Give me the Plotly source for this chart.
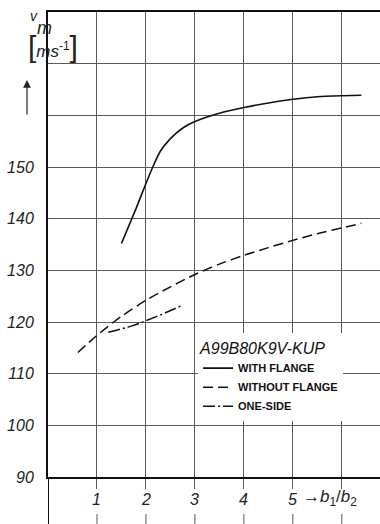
import plotly.graph_objects as go

# ---- data ----
x_with = [1.5, 1.8, 2.0, 2.14, 2.29, 2.49, 2.76, 3.0, 3.5, 4.0, 4.5, 5.0, 5.5, 6.0, 6.4]
v_with = [135.2, 142.0, 146.8, 150.0, 153.0, 155.4, 157.6, 158.8, 160.4, 161.5, 162.4, 163.1, 163.6, 163.8, 163.9]

x_without = [0.61, 1.0, 1.5, 2.0, 2.5, 3.0, 3.5, 4.0, 4.5, 5.0, 5.5, 6.0, 6.4]
v_without = [114.1, 117.4, 121.1, 124.2, 126.8, 129.2, 131.2, 132.9, 134.4, 135.8, 137.1, 138.2, 139.1]

x_one = [1.23, 1.7, 2.2, 2.71]
v_one = [118.0, 119.2, 121.0, 123.1]

x_ticks = [1, 2, 3, 4, 5, 6]
x_tick_labels = ["1", "2", "3", "4", "5"]
y_ticks = [90, 100, 110, 120, 130, 140, 150, 160, 170]
y_tick_labels = ["90", "100", "110", "120", "130", "140", "150", "", ""]

series_names = ["WITH FLANGE", "WITHOUT FLANGE", "ONE-SIDE"]
chart_label = "A99B80K9V-KUP"

GRID = "#5a5a5a"
INK = "#111111"
FONT = "Liberation Sans"

fig = go.Figure()
fig.add_trace(go.Scatter(x=x_with, y=v_with, mode="lines", name=series_names[0],
                         line=dict(color=INK, width=1.6, shape="spline", smoothing=0.5)))
fig.add_trace(go.Scatter(x=x_without, y=v_without, mode="lines", name=series_names[1],
                         line=dict(color=INK, width=1.5, dash="10px,5px", shape="spline", smoothing=0.8)))
fig.add_trace(go.Scatter(x=x_one, y=v_one, mode="lines", name=series_names[2],
                         line=dict(color=INK, width=1.5, dash="12px,3px,2px,3px", shape="spline", smoothing=0.8)))

fig.update_layout(
    width=380, height=524,
    margin=dict(l=48, r=0, t=12, b=47),
    paper_bgcolor="white", plot_bgcolor="white",
    showlegend=True,
    legend=dict(
        x=0.452, y=0.31, xanchor="left", yanchor="top",
        bgcolor="white", borderwidth=0,
        title=dict(text="<i>" + chart_label + "</i>",
                   font=dict(family=FONT, size=16, color=INK, weight="normal")),
        font=dict(family=FONT, size=11, color=INK, weight="bold"),
        itemwidth=30, tracegroupgap=0,
    ),
    xaxis=dict(
        range=[0, 6.78], tickvals=x_ticks, showticklabels=False,
        showgrid=True, gridcolor=GRID, gridwidth=1,
        ticks="outside", ticklen=10, tickcolor=GRID, tickwidth=1,
        showline=True, linecolor=INK, linewidth=2, mirror=True,
        zeroline=False, fixedrange=True,
    ),
    yaxis=dict(
        range=[90, 180], tickvals=y_ticks,
        ticktext=[("<i>" + t + "</i>") if t else "" for t in y_tick_labels],
        showgrid=True, gridcolor=GRID, gridwidth=1,
        ticks="", ticklabelstandoff=9,
        tickfont=dict(family=FONT, size=16, color="#222", style="italic"),
        showline=True, linecolor=INK, linewidth=2,
        zeroline=False, fixedrange=True,
    ),
)

def px_to_paper_x(px):
    return (px - 48) / 332

def px_to_paper_y(py):
    return (477 - py) / 465

annotations = []
for xv, lab in zip(x_ticks, x_tick_labels):
    annotations.append(dict(x=xv, y=0, xref="x", yref="paper", yshift=-33, text="<i>" + lab + "</i>",
                            showarrow=False, font=dict(family=FONT, size=16, color="#222")))
annotations.append(dict(x=5, y=0, xref="x", yref="paper", xshift=8, yshift=-34, xanchor="left",
                        text="\u2192<i>b</i><sub>1</sub>/<i>b</i><sub>2</sub>", showarrow=False,
                        font=dict(family=FONT, size=17, color="#222")))
# axis unit label: v (small) with subscript m (large)
annotations.append(dict(x=px_to_paper_x(28), y=px_to_paper_y(6), xref="paper", yref="paper",
                        text="<i>v</i>", showarrow=False,
                        font=dict(family=FONT, size=14, color="#222")))
annotations.append(dict(x=px_to_paper_x(35), y=px_to_paper_y(16), xref="paper", yref="paper",
                        text="<i>m</i>", showarrow=False,
                        font=dict(family=FONT, size=18, color="#222")))
annotations.append(dict(x=px_to_paper_x(26), y=px_to_paper_y(28), xref="paper", yref="paper",
                        text="<span style='font-size:30px'>[</span><i>ms</i><sup>-1</sup><span style='font-size:30px'>]</span>",
                        showarrow=False, font=dict(family=FONT, size=17, color="#222")))
annotations.append(dict(x=px_to_paper_x(27), y=px_to_paper_y(80), xref="paper", yref="paper", text="",
                        showarrow=True, ax=0, ay=36, arrowhead=2, arrowsize=1.3, arrowwidth=1.2,
                        arrowcolor="#222"))
fig.update_layout(annotations=annotations)

shapes = []
for xv in x_ticks:
    shapes.append(dict(type="line", xref="x", yref="paper", x0=xv, x1=xv,
                       y0=(477 - 514) / 465, y1=(477 - 526) / 465,
                       line=dict(color=GRID, width=1)))
shapes.append(dict(type="line", xref="x", yref="paper", x0=0, x1=0, y0=0, y1=(477 - 526) / 465,
                   line=dict(color=INK, width=2)))
fig.update_layout(shapes=shapes)

fig.write_html("out.html")
